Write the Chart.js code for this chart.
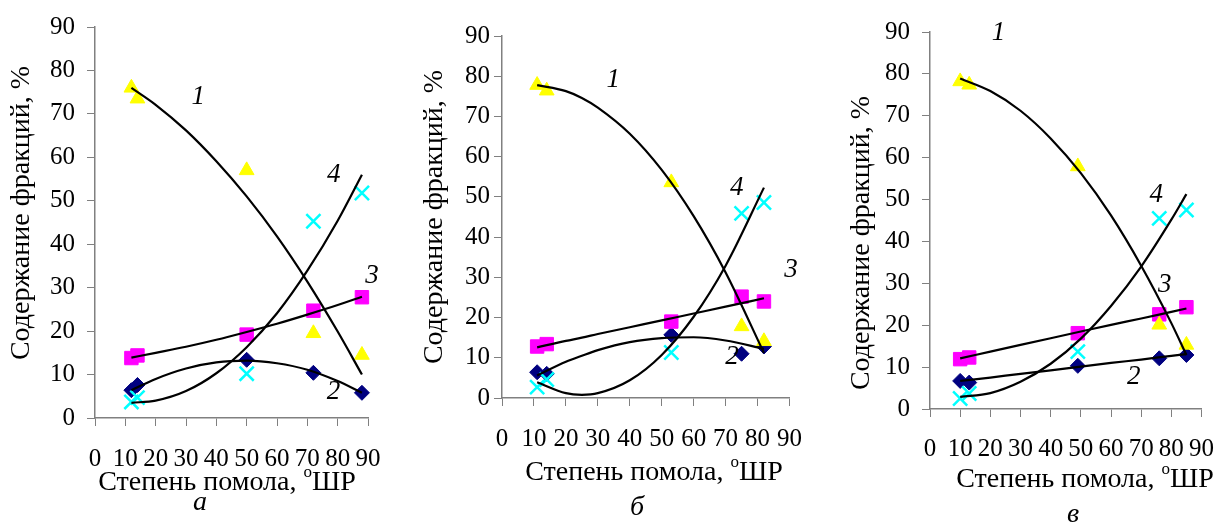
<!DOCTYPE html>
<html><head><meta charset="UTF-8"></head>
<body style="margin:0;background:#fff">
<div style="position:absolute;left:-2000px;top:0;font-family:'Liberation Serif';font-size:28px">Степень помола <i>абв 1234</i></div>
<div id="wrap" style="position:relative;width:1231px;height:525px;background:#fff">
  <canvas id="panelA" width="410" height="525" style="position:absolute;left:0px;top:0"></canvas>
  <canvas id="panelB" width="410" height="525" style="position:absolute;left:410px;top:0"></canvas>
  <canvas id="panelC" width="411" height="525" style="position:absolute;left:820px;top:0"></canvas>
</div>

<script src="https://cdn.jsdelivr.net/npm/chart.js"></script>
<script>
  // --- данные ---
  const xTitle = 'Степень помола, ';
  const xTitleSup = 'о';
  const xTitleEnd = 'ШР';
  const yTitle = 'Содержание фракций, %';
  const curveNames = ['1', '2', '3', '4'];
  const panelLetters = ['а', 'б', 'в'];

  // панель а
  const xA = [12, 14, 50, 72, 88];
  const fr1A = [76, 73.5, 57, 19.5, 14.5];
  const fr2A = [6.4, 7.6, 13.4, 10.4, 5.8];
  const fr3A = [13.8, 14.4, 19.2, 24.7, 27.8];
  const fr4A = [3.7, 4.7, 10.2, 45.3, 51.8];
  const trendXA = [12, 20, 30, 40, 50, 60, 70, 80, 88];
  const trend1A = [76, 72.1, 66.2, 59.1, 51.0, 41.8, 31.4, 19.9, 10.0];
  const trend2A = [6.4, 9.0, 11.4, 12.8, 13.2, 12.6, 11.1, 8.5, 5.8];
  const trend3A = [13.9, 15.0, 16.4, 18.0, 19.8, 21.7, 23.8, 26.0, 27.9];
  const trend4A = [3.5, 4.0, 6.2, 10.3, 16.3, 24.1, 33.9, 45.4, 56.0];

  // панель б
  const xB = [11, 14, 53, 75, 82];
  const fr1B = [77.8, 76.4, 53.6, 17.8, 14.1];
  const fr2B = [6.4, 6.0, 15.7, 11.0, 12.8];
  const fr3B = [12.8, 13.4, 19.0, 25.2, 24.0];
  const fr4B = [2.7, 4.6, 11.3, 45.9, 48.6];
  const trendXB = [11, 20, 25, 30, 40, 50, 60, 70, 82];
  const trend1B = [77.8, 76.3, 74.6, 72.2, 65.7, 56.7, 45.2, 31.2, 11.2];
  const trend2B = [5.6, 9.0, 10.5, 11.9, 13.9, 14.9, 15.1, 14.3, 12.2];
  const trend3B = [12.6, 14.2, 15.0, 15.9, 17.6, 19.3, 21.0, 22.7, 24.8];
  const trend4B = [3.9, 1.2, 0.8, 1.2, 4.4, 10.7, 20.2, 32.9, 52.3];

  // панель в
  const xC = [10, 13, 49, 76, 85];
  const fr1C = [78.2, 77.4, 57.9, 20.1, 15.3];
  const fr2C = [6.7, 6.3, 10.3, 12.1, 12.9];
  const fr3C = [11.9, 12.3, 18.1, 22.6, 24.3];
  const fr4C = [2.5, 3.7, 13.7, 45.5, 47.5];
  const trendXC = [10, 20, 30, 40, 50, 60, 70, 80, 85];
  const trend1C = [78.9, 75.9, 71.2, 64.6, 56.3, 46.2, 34.2, 20.5, 12.9];
  const trend2C = [6.7, 7.5, 8.4, 9.2, 10.1, 11.0, 11.8, 12.7, 13.1];
  const trend3C = [12.1, 13.7, 15.3, 16.9, 18.5, 20.1, 21.6, 23.2, 24.0];
  const trend4C = [2.9, 3.8, 6.5, 10.8, 16.8, 24.6, 34.0, 45.2, 51.3];

  // --- оформление ---
  const fam = '"Liberation Serif", "DejaVu Serif", serif';
  const axisGrey = '#808080';
  Chart.defaults.font.family = fam;

  function pts(xs, ys) {
    return xs.map((x, i) => ({ x: x, y: ys[i] }));
  }

  function marks(xs, s1, s2, s3, s4) {
    return [
      { type: 'scatter', data: pts(xs, s2), pointStyle: 'rectRot', pointRadius: 7.5,
        backgroundColor: '#000080', borderColor: '#000080', borderWidth: 1, order: 5, clip: false },
      { type: 'scatter', data: pts(xs, s3), pointStyle: 'rect', pointRadius: 9.5,
        backgroundColor: '#ff00ff', borderColor: '#ff00ff', borderWidth: 1, order: 4, clip: false },
      { type: 'scatter', data: pts(xs, s1), pointStyle: 'triangle', pointRadius: 8.5,
        backgroundColor: '#ffff00', borderColor: '#ffff00', borderWidth: 1, order: 3, clip: false },
      { type: 'scatter', data: pts(xs, s4), pointStyle: 'crossRot', pointRadius: 10,
        backgroundColor: '#00ffff', borderColor: '#00ffff', borderWidth: 2.5, order: 2, clip: false }
    ];
  }

  function trend(xs, ys) {
    return { type: 'line', data: pts(xs, ys), borderColor: '#000', borderWidth: 2.2,
      pointRadius: 0, fill: false, cubicInterpolationMode: 'monotone', order: 1, clip: false };
  }

  // подписи: названия осей, буква панели, номера кривых
  const panelText = {
    id: 'panelText',
    afterDraw(chart, args, o) {
      const c = chart.ctx;
      const sx = chart.scales.x, sy = chart.scales.y;
      c.save();
      c.fillStyle = '#000';
      c.textBaseline = 'middle';

      // подпись оси X с верхним индексом
      c.font = '28px ' + fam;
      const w1 = c.measureText(xTitle).width;
      const w3 = c.measureText(xTitleEnd).width;
      c.font = '17px ' + fam;
      const w2 = c.measureText(xTitleSup).width;
      const left = o.xTitleAt[0] - (w1 + w2 + w3) / 2;
      c.textAlign = 'left';
      c.font = '28px ' + fam;
      c.fillText(xTitle, left, o.xTitleAt[1]);
      c.font = '17px ' + fam;
      c.fillText(xTitleSup, left + w1, o.xTitleAt[1] - 10);
      c.font = '28px ' + fam;
      c.fillText(xTitleEnd, left + w1 + w2, o.xTitleAt[1]);

      // подпись оси Y
      c.textAlign = 'center';
      c.save();
      c.translate(o.yTitleAt[0], o.yTitleAt[1]);
      c.rotate(-Math.PI / 2);
      c.fillText(yTitle, 0, 0);
      c.restore();

      c.font = 'italic 28px ' + fam;
      c.fillText(o.letter, o.letterAt[0], o.letterAt[1]);

      c.font = 'italic 27px ' + fam;
      curveNames.forEach((n, i) => {
        c.fillText(n, sx.getPixelForValue(o.namesAt[i][0]), sy.getPixelForValue(o.namesAt[i][1]));
      });
      c.restore();
    }
  };

  function makePanel(id, datasets, box, text) {
    const canvas = document.getElementById(id);
    return new Chart(canvas, {
      type: 'scatter',
      data: { datasets: datasets },
      options: {
        responsive: false,
        animation: false,
        layout: { padding: { top: box.top, right: canvas.width - box.right, left: 0, bottom: 0 } },
        plugins: {
          legend: { display: false },
          tooltip: { enabled: false },
          panelText: text
        },
        scales: {
          x: {
            type: 'linear', min: 0, max: 90,
            ticks: { stepSize: 10, autoSkip: false, maxRotation: 0, minRotation: 0,
              padding: box.xPad, color: '#000', font: { family: fam, size: 25 } },
            grid: { drawOnChartArea: false, drawTicks: true, tickLength: 8, color: axisGrey },
            border: { display: true, color: axisGrey, width: 1.5 },
            afterFit: s => { s.height = canvas.height - box.bottom; }
          },
          y: {
            type: 'linear', min: 0, max: 90,
            ticks: { stepSize: 10, padding: box.yPad, color: '#000', font: { family: fam, size: 25 } },
            grid: { drawOnChartArea: false, drawTicks: true, tickLength: 8, color: axisGrey },
            border: { display: true, color: axisGrey, width: 1.5 },
            afterFit: s => { s.width = box.left; }
          }
        }
      },
      plugins: [panelText]
    });
  }

  makePanel('panelA',
    [trend(trendXA, trend1A), trend(trendXA, trend2A), trend(trendXA, trend3A), trend(trendXA, trend4A)]
      .concat(marks(xA, fr1A, fr2A, fr3A, fr4A)),
    { left: 95, right: 368, top: 25, bottom: 418, xPad: 18, yPad: 12 },
    { xTitleAt: [227, 483], yTitleAt: [22, 213], letter: panelLetters[0], letterAt: [200, 503],
      namesAt: [[34, 74], [78.6, 6], [91.3, 32.7], [78.7, 56]] });

  makePanel('panelB',
    [trend(trendXB, trend1B), trend(trendXB, trend2B), trend(trendXB, trend3B), trend(trendXB, trend4B)]
      .concat(marks(xB, fr1B, fr2B, fr3B, fr4B)),
    { left: 92, right: 383, top: 36, bottom: 398, xPad: 18, yPad: 4 },
    { xTitleAt: [244, 473], yTitleAt: [25, 217], letter: panelLetters[1], letterAt: [227, 508],
      namesAt: [[34.8, 79], [72, 10.3], [90.5, 31.9], [73.5, 52.2]] });

  makePanel('panelC',
    [trend(trendXC, trend1C), trend(trendXC, trend2C), trend(trendXC, trend3C), trend(trendXC, trend4C)]
      .concat(marks(xC, fr1C, fr2C, fr3C, fr4C)),
    { left: 110, right: 388, top: 32, bottom: 409, xPad: 17, yPad: 12 },
    { xTitleAt: [265, 480], yTitleAt: [42, 243], letter: panelLetters[2], letterAt: [253, 515],
      namesAt: [[22.7, 89.7], [67.5, 7.7], [77.8, 29.6], [75, 51.1]] });
</script>
</body>
</html>
